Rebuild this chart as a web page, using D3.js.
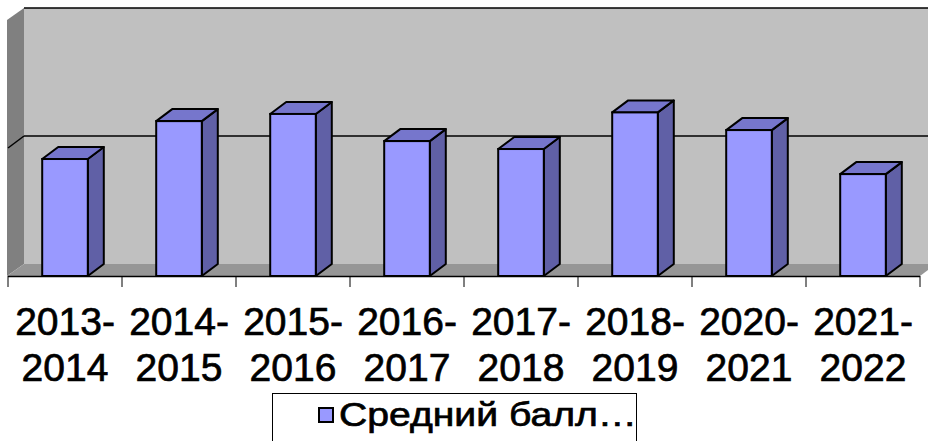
<!DOCTYPE html>
<html>
<head>
<meta charset="utf-8">
<script src="https://cdn.jsdelivr.net/npm/d3@7"></script>
<style>
  body { margin: 0; background: #fff; }
  svg { display: block; }
  text { font-family: "Liberation Sans", Arial, sans-serif; fill: #000; stroke: #000; stroke-width: 0.7px; }
</style>
</head>
<body>
<div id="grafico"></div>
<script>
// datos
const periodos = ["2013-2014", "2014-2015", "2015-2016", "2016-2017", "2017-2018", "2018-2019", "2020-2021", "2021-2022"];
const valores = [45.7, 60.5, 63.3, 52.7, 49.6, 63.9, 57.0, 39.8];
const ticksY = [0, 50, 100];
const serie = "Средний балл…";

const width = 928, height = 441;
const dx = 16, dy = 12; // profundidad 3D

const svg = d3.select("#grafico")
    .append("svg")
    .attr("width", width)
    .attr("height", height);

const x = d3.scaleBand()
    .domain(periodos)
    .range([8, 920])
    .padding(0);

const y = d3.scaleLinear()
    .domain([0, 100])
    .range([276, 20]);

const anchoBarra = x.bandwidth() * 0.4;
const base = y(0);
const xIni = x.range()[0], xFin = x.range()[1];

// pared lateral
svg.append("path")
    .attr("d", `M${xIni - 1},${base} L${xIni - 1 + dx + 1},${base - dy} L${xIni + dx},${y(100) - dy} L${xIni - 1},${y(100)} Z`)
    .attr("fill", "#808080");

// pared del fondo
svg.append("rect")
    .attr("x", xIni + dx)
    .attr("y", y(100) - dy)
    .attr("width", width - xIni - dx + 20)
    .attr("height", y(0) - y(100))
    .attr("fill", "#c0c0c0");

// suelo
svg.append("path")
    .attr("d", `M${xIni - 1},${base} L${xFin},${base} L${xFin + dx},${base - dy} L${xIni + dx},${base - dy} Z`)
    .attr("fill", "#969696");

// líneas de cuadrícula
const lineas = svg.append("g").attr("class", "grid");
ticksY.filter(t => t > 0).forEach(function(t) {
    const yy = y(t) - dy;
    lineas.append("line")
        .attr("x1", xIni + dx).attr("x2", width)
        .attr("y1", yy).attr("y2", yy)
        .attr("stroke", "#000").attr("stroke-width", 1.5);
    if (t < 100) {
        lineas.append("line")
            .attr("x1", xIni).attr("y1", y(t))
            .attr("x2", xIni + dx).attr("y2", yy)
            .attr("stroke", "#000").attr("stroke-width", 1.5);
    }
});

// barras
const barras = svg.append("g").attr("class", "barras")
    .selectAll("g")
    .data(periodos.map((p, i) => ({ periodo: p, valor: valores[i] })))
    .enter().append("g");

barras.each(function(d) {
    const g = d3.select(this);
    const x0 = x(d.periodo) + (x.bandwidth() - anchoBarra) / 2;
    const x1 = x0 + anchoBarra;
    const yt = y(d.valor);
    // lado
    g.append("path")
        .attr("d", `M${x1},${base} L${x1 + dx},${base - dy} L${x1 + dx},${yt - dy} L${x1},${yt} Z`)
        .attr("fill", "#6060a6")
        .attr("stroke", "#000").attr("stroke-width", 2).attr("stroke-linejoin", "round");
    // techo
    g.append("path")
        .attr("d", `M${x0},${yt} L${x0 + dx},${yt - dy} L${x1 + dx},${yt - dy} L${x1},${yt} Z`)
        .attr("fill", "#7676cc")
        .attr("stroke", "#000").attr("stroke-width", 2).attr("stroke-linejoin", "round");
    // frente
    g.append("rect")
        .attr("x", x0).attr("y", yt)
        .attr("width", anchoBarra).attr("height", base - yt)
        .attr("fill", "#9999ff")
        .attr("stroke", "#000").attr("stroke-width", 2);
});

// eje X
const eje = svg.append("g").attr("class", "ejeX");
eje.append("line")
    .attr("x1", xIni).attr("x2", xFin)
    .attr("y1", base + 0.5).attr("y2", base + 0.5)
    .attr("stroke", "#000").attr("stroke-width", 1.5);

const bordes = periodos.map(p => x(p)).concat([xFin]);
eje.selectAll("line.tick")
    .data(bordes)
    .enter().append("line")
    .attr("class", "tick")
    .attr("x1", d => d).attr("x2", d => d)
    .attr("y1", base).attr("y2", base + 11)
    .attr("stroke", "#000").attr("stroke-width", 1);

const etiquetas = eje.selectAll("text")
    .data(periodos)
    .enter().append("text")
    .attr("text-anchor", "middle")
    .style("font-size", "39px");

etiquetas.append("tspan")
    .attr("x", d => x(d) + x.bandwidth() / 2)
    .attr("y", 335)
    .text(d => d.split("-")[0] + "-");
etiquetas.append("tspan")
    .attr("x", d => x(d) + x.bandwidth() / 2)
    .attr("y", 381)
    .text(d => d.split("-")[1]);

// leyenda
svg.append("clipPath").attr("id", "clipLeyenda")
    .append("rect").attr("x", 272).attr("y", 393).attr("width", 365).attr("height", 60);

const leyenda = svg.append("g").attr("class", "leyenda");
leyenda.append("rect")
    .attr("x", 272.5).attr("y", 393.5)
    .attr("width", 364).attr("height", 60)
    .attr("fill", "#fff")
    .attr("stroke", "#000").attr("stroke-width", 1);
leyenda.append("rect")
    .attr("x", 319).attr("y", 408)
    .attr("width", 14).attr("height", 14)
    .attr("fill", "#9999ff")
    .attr("stroke", "#000").attr("stroke-width", 2);
leyenda.append("text")
    .attr("x", 339).attr("y", 426)
    .attr("clip-path", "url(#clipLeyenda)")
    .attr("textLength", 298)
    .attr("lengthAdjust", "spacingAndGlyphs")
    .style("font-size", "34px")
    .text(serie);
</script>
</body>
</html>
